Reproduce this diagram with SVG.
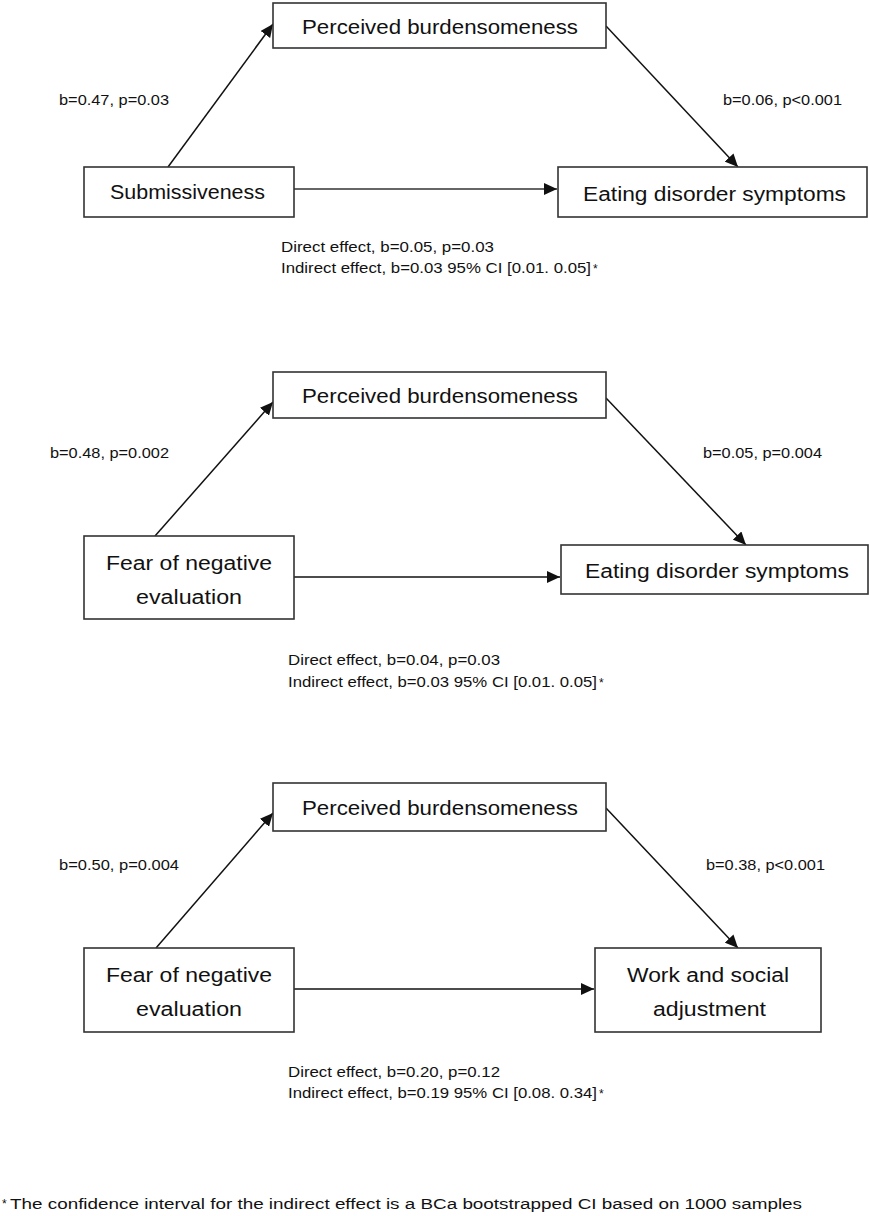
<svg xmlns="http://www.w3.org/2000/svg" width="869" height="1216" viewBox="0 0 869 1216">
<style>
.box{fill:#fff;stroke:#333;stroke-width:1.6}
.nt{font-family:"Liberation Sans",Arial,sans-serif;font-size:20px;fill:#111}
.lb{font-family:"Liberation Sans",Arial,sans-serif;font-size:14px;fill:#111}
.ast{font-family:"Liberation Sans",Arial,sans-serif;font-size:12px;fill:#111}
.ar{stroke:#111;stroke-width:1.5;fill:none;marker-end:url(#ah)}
.arg{stroke:#666;stroke-width:1.8;fill:none;marker-end:url(#ah)}
</style>
<defs>
<marker id="ah" markerUnits="userSpaceOnUse" markerWidth="14" markerHeight="12" refX="13" refY="6" orient="auto">
<path d="M0,0 L13,6 L0,12 Z" fill="#111"/>
</marker>
</defs>
<rect width="869" height="1216" fill="#fff"/>
<g id="connectors">
<line class="ar" x1="168" y1="167" x2="273" y2="24"/>
<line class="ar" x1="606" y1="26" x2="738" y2="167"/>
<line class="arg" x1="294" y1="189" x2="557" y2="189"/>
<line class="ar" x1="155" y1="536" x2="273" y2="402"/>
<line class="ar" x1="606" y1="398" x2="746" y2="545"/>
<line class="ar" x1="294" y1="577" x2="560" y2="577"/>
<line class="ar" x1="156" y1="948" x2="273" y2="813"/>
<line class="ar" x1="606" y1="808" x2="738" y2="948"/>
<line class="ar" x1="294" y1="989" x2="594" y2="989"/>
</g>
<g id="pb1"><rect class="box" x="273" y="3" width="333" height="45"/><text class="nt" x="302" y="34" textLength="276" lengthAdjust="spacingAndGlyphs">Perceived burdensomeness</text></g>
<g id="sub1"><rect class="box" x="84" y="167" width="210" height="50"/><text class="nt" x="110" y="199" textLength="155" lengthAdjust="spacingAndGlyphs">Submissiveness</text></g>
<g id="eds1"><rect class="box" x="558" y="167" width="309" height="50"/><text class="nt" x="583" y="201" textLength="263" lengthAdjust="spacingAndGlyphs">Eating disorder symptoms</text></g>
<g id="lab1">
<text class="lb" x="59" y="105" textLength="110" lengthAdjust="spacingAndGlyphs">b=0.47, p=0.03</text>
<text class="lb" x="723" y="105" textLength="119" lengthAdjust="spacingAndGlyphs">b=0.06, p&lt;0.001</text>
<text class="lb" x="281" y="252" textLength="213" lengthAdjust="spacingAndGlyphs">Direct effect, b=0.05, p=0.03</text>
<text class="lb" x="281" y="273" textLength="310" lengthAdjust="spacingAndGlyphs">Indirect effect, b=0.03 95% CI [0.01. 0.05]</text>
<text class="ast" x="593" y="273">*</text>
</g>
<g id="pb2"><rect class="box" x="273" y="372" width="333" height="46"/><text class="nt" x="302" y="403" textLength="276" lengthAdjust="spacingAndGlyphs">Perceived burdensomeness</text></g>
<g id="fne2"><rect class="box" x="84" y="536" width="210" height="83"/><text class="nt" x="106" y="570" textLength="166" lengthAdjust="spacingAndGlyphs">Fear of negative</text><text class="nt" x="136" y="604" textLength="106" lengthAdjust="spacingAndGlyphs">evaluation</text></g>
<g id="eds2"><rect class="box" x="561" y="545" width="307" height="49"/><text class="nt" x="585" y="578" textLength="264" lengthAdjust="spacingAndGlyphs">Eating disorder symptoms</text></g>
<g id="lab2">
<text class="lb" x="50" y="458" textLength="119" lengthAdjust="spacingAndGlyphs">b=0.48, p=0.002</text>
<text class="lb" x="703" y="458" textLength="119" lengthAdjust="spacingAndGlyphs">b=0.05, p=0.004</text>
<text class="lb" x="288" y="665" textLength="212" lengthAdjust="spacingAndGlyphs">Direct effect, b=0.04, p=0.03</text>
<text class="lb" x="288" y="687" textLength="309" lengthAdjust="spacingAndGlyphs">Indirect effect, b=0.03 95% CI [0.01. 0.05]</text>
<text class="ast" x="599" y="687">*</text>
</g>
<g id="pb3"><rect class="box" x="273" y="783" width="333" height="48"/><text class="nt" x="302" y="815" textLength="276" lengthAdjust="spacingAndGlyphs">Perceived burdensomeness</text></g>
<g id="fne3"><rect class="box" x="84" y="948" width="210" height="84"/><text class="nt" x="106" y="982" textLength="166" lengthAdjust="spacingAndGlyphs">Fear of negative</text><text class="nt" x="136" y="1016" textLength="106" lengthAdjust="spacingAndGlyphs">evaluation</text></g>
<g id="wsa3"><rect class="box" x="595" y="948" width="226" height="84"/><text class="nt" x="627" y="982" textLength="162" lengthAdjust="spacingAndGlyphs">Work and social</text><text class="nt" x="653" y="1016" textLength="113" lengthAdjust="spacingAndGlyphs">adjustment</text></g>
<g id="lab3">
<text class="lb" x="59" y="870" textLength="120" lengthAdjust="spacingAndGlyphs">b=0.50, p=0.004</text>
<text class="lb" x="706" y="870" textLength="119" lengthAdjust="spacingAndGlyphs">b=0.38, p&lt;0.001</text>
<text class="lb" x="288" y="1077" textLength="212" lengthAdjust="spacingAndGlyphs">Direct effect, b=0.20, p=0.12</text>
<text class="lb" x="288" y="1098" textLength="309" lengthAdjust="spacingAndGlyphs">Indirect effect, b=0.19 95% CI [0.08. 0.34]</text>
<text class="ast" x="599" y="1098">*</text>
</g>
<g id="footnote">
<text class="ast" x="2" y="1208">*</text>
<text class="lb" x="10" y="1209" font-size="15" textLength="792" lengthAdjust="spacingAndGlyphs">The confidence interval for the indirect effect is a BCa bootstrapped CI based on 1000 samples</text>
</g>
</svg>
